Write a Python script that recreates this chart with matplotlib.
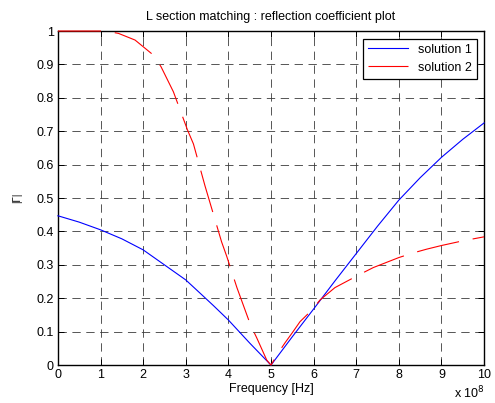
import numpy as np
import matplotlib
matplotlib.use('Agg')
import matplotlib.pyplot as plt
from matplotlib.ticker import FuncFormatter

plt.rcParams['font.family'] = ['Liberation Sans', 'DejaVu Sans']
plt.rcParams['lines.scale_dashes'] = False

# frequency in units of 1e8 Hz
freq_sol1 = [0, 0.5, 1, 1.5, 2, 2.5, 3, 3.33, 3.65, 4, 4.5, 5,
             5.5, 6, 6.5, 7, 7.5, 8, 8.5, 9, 9.5, 10]
gamma_sol1 = [0.447, 0.428, 0.405, 0.378, 0.345, 0.300, 0.255, 0.216, 0.178, 0.135, 0.066, 0.0,
              0.085, 0.168, 0.252, 0.334, 0.416, 0.494, 0.561, 0.622, 0.676, 0.725]

freq_sol2 = [0, 0.5, 1, 1.2, 1.42, 1.81, 2.24, 2.42, 2.71, 3.04, 3.18, 3.45, 3.55,
             3.84, 3.96, 4.2, 4.52, 4.66, 4.9, 5, 5.15, 5.33, 5.5, 5.68, 5.96, 6.15,
             6.5, 7.09, 7.4, 8.0, 8.34, 8.65, 9.0, 9.5, 10]
gamma_sol2 = [1.0, 1.0, 1.0, 0.998, 0.993, 0.973, 0.928, 0.893, 0.818, 0.704, 0.662, 0.537, 0.494,
              0.369, 0.326, 0.232, 0.120, 0.083, 0.015, 0.0, 0.033, 0.067, 0.097, 0.130, 0.165, 0.195,
              0.232, 0.272, 0.292, 0.322, 0.336, 0.347, 0.358, 0.372, 0.384]

fig = plt.figure(figsize=(4.95, 4.03), dpi=100)
ax = fig.add_axes([0.117, 0.094, 0.861, 0.829])

f1 = np.array(freq_sol1) * 1e8
f2 = np.array(freq_sol2) * 1e8
ax.plot(f1, gamma_sol1, color='#0000ff', lw=0.8, label='solution 1', zorder=3, clip_on=False)
ax.plot(f2, gamma_sol2, color='#ff0000', lw=0.8, linestyle=(0, (31, 10)), label='solution 2',
        zorder=3, clip_on=False)

ax.set_xlim(0, 1e9)
ax.set_ylim(0, 1)
ax.set_xticks(np.arange(0, 11) * 1e8)
ax.set_yticks(np.arange(0, 11) / 10)
ax.xaxis.set_major_formatter(FuncFormatter(lambda v, p: '%g' % (v / 1e8)))
ax.yaxis.set_major_formatter(FuncFormatter(lambda v, p: '%g' % v))
ax.tick_params(direction='in', length=4, width=0.7, top=True, right=True, labelsize=9, pad=3)

ax.grid(True, color='#3a3a3a', lw=0.6, linestyle=(0, (6, 4)))
for s in ax.spines.values():
    s.set_linewidth(1.0)

ax.set_title('L section matching : reflection coefficient plot', fontsize=9, pad=8)
ax.set_xlabel('Frequency [Hz]', fontsize=9, labelpad=1)
ax.set_ylabel('|Γ|', fontsize=7, labelpad=10)
fig.text(0.918, 0.012, 'x 10$^{8}$', fontsize=9)

leg = ax.legend(loc='upper right', fontsize=9, fancybox=False, framealpha=1,
                edgecolor='black', handlelength=3.2, borderaxespad=0.6)
leg.get_frame().set_linewidth(0.9)
leg.set_zorder(5)

fig.savefig('out.png', dpi=100)
